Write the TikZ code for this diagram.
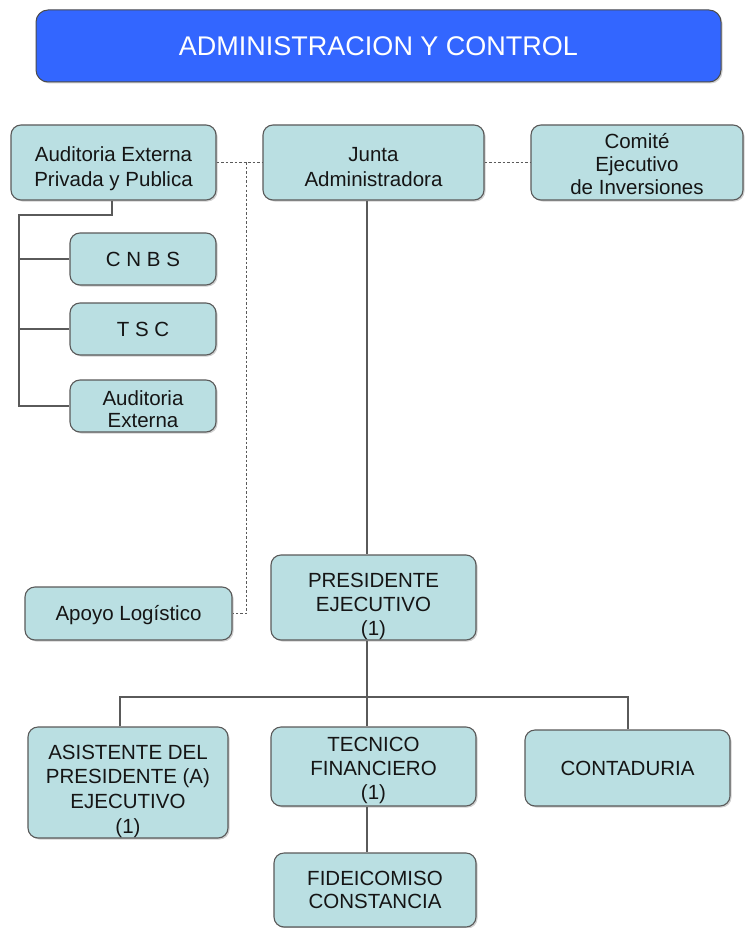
\documentclass[tikz,border=0pt]{standalone}
\usepackage{fontspec}
\setmainfont{Liberation Sans}
\usetikzlibrary{shadows}
\definecolor{boxfill}{HTML}{BADFE2}
\definecolor{boxline}{HTML}{5A5A5A}
\definecolor{titleblue}{HTML}{3366FF}
\definecolor{txt}{HTML}{151515}
% text block moved down by #1 inside its box (box size set by minimum width/height)
\newcommand\lowtext[2]{\raisebox{-#1}[0pt][0pt]{\begin{tabular}{@{}c@{}}#2\end{tabular}}}
\begin{document}
\begin{tikzpicture}[x=1pt,y=-1pt,
  orgbox/.style={draw=boxline, line width=1.1pt, fill=boxfill, rounded corners=10pt,
    align=center, font=\fontsize{20.5}{24}\selectfont, text=txt, inner sep=1pt,
    drop shadow={shadow xshift=1.5pt, shadow yshift=-1.5pt, fill=gray!60, opacity=0.6}},
  titlebox/.style={draw=black!70, line width=1pt, fill=titleblue, rounded corners=12pt,
    align=center, font=\fontsize{27}{30}\selectfont, text=white,
    drop shadow={shadow xshift=1.5pt, shadow yshift=-1.5pt, fill=gray!60, opacity=0.6}},
  solidlink/.style={draw=boxline, line width=1.2pt},
  dashlink/.style={draw=boxline, line width=1pt, dash pattern=on 2.5pt off 2pt}
]
\useasboundingbox (0,0) rectangle (744,928);
\fill[white] (0,0) rectangle (744,928);

\node[titlebox, minimum width=685pt, minimum height=72pt] (title) at (378.5,46) {ADMINISTRACION Y CONTROL};

\node[orgbox, minimum width=205pt, minimum height=75pt, font=\fontsize{20.5}{25}\selectfont] (aud) at (113.5,162.5) {\lowtext{12pt}{Auditoria Externa\\Privada y Publica}};
\node[orgbox, minimum width=221pt, minimum height=75pt, font=\fontsize{20.5}{25}\selectfont] (junta) at (373.5,162.5) {\lowtext{12pt}{Junta\\Administradora}};
\node[orgbox, minimum width=212pt, minimum height=75pt, font=\fontsize{20.5}{23}\selectfont] (comite) at (637,162.5) {\lowtext{10pt}{Comité\\Ejecutivo\\de Inversiones}};

\node[orgbox, minimum width=146pt, minimum height=52pt] (cnbs) at (143,259) {C N B S};
\node[orgbox, minimum width=146pt, minimum height=52pt] (tsc) at (143,329) {T S C};
\node[orgbox, minimum width=146pt, minimum height=52pt, font=\fontsize{20.5}{22}\selectfont] (audext) at (143,406) {\lowtext{11pt}{Auditoria\\Externa}};

\node[orgbox, minimum width=207pt, minimum height=53pt] (apoyo) at (128.5,613.5) {\lowtext{7pt}{Apoyo Logístico}};
\node[orgbox, minimum width=205pt, minimum height=85pt] (pres) at (373.5,597.5) {\lowtext{14pt}{PRESIDENTE\\EJECUTIVO\\(1)}};

\node[orgbox, minimum width=200pt, minimum height=111pt, font=\fontsize{20.5}{24.7}\selectfont] (asis) at (128,782.5) {\lowtext{14pt}{ASISTENTE DEL\\PRESIDENTE (A)\\EJECUTIVO\\(1)}};
\node[orgbox, minimum width=205pt, minimum height=79pt] (tec) at (373.5,766.5) {\lowtext{9pt}{TECNICO\\FINANCIERO\\(1)}};
\node[orgbox, minimum width=205pt, minimum height=76pt] (cont) at (627.5,768) {CONTADURIA};
\node[orgbox, minimum width=202pt, minimum height=74pt, font=\fontsize{20.5}{23}\selectfont] (fide) at (375,890) {FIDEICOMISO\\CONSTANCIA};

% auditoria branch
\coordinate (audbend) at (112,215);
\coordinate (audleft) at (19,215);
\draw[solidlink] ([xshift=-1.5pt]aud.south) -- (audbend) -- (audleft) -- (audleft |- audext.west) -- (audext.west);
\draw[solidlink] (audleft |- cnbs.west) -- (cnbs.west);
\draw[solidlink] (audleft |- tsc.west) -- (tsc.west);

% dashed links
\coordinate (dashx) at (246,162.5);
\draw[dashlink] (aud.east) -- (junta.west);
\draw[dashlink] (dashx) -- (dashx |- apoyo.east) -- (apoyo.east);
\draw[dashlink] (junta.east) -- (comite.west);

% main line
\draw[solidlink] ([xshift=-6.5pt]junta.south) -- ([xshift=-6.5pt]pres.north);
\draw[solidlink] ([xshift=-6.5pt]pres.south) -- ([xshift=-6.5pt]tec.north);
\coordinate (busL) at (120,697);
\coordinate (busR) at (628,697);
\draw[solidlink] ([xshift=-8pt]asis.north) -- (busL) -- (busR) -- ([xshift=0.5pt]cont.north);
\draw[solidlink] ([xshift=-6.5pt]tec.south) -- ([xshift=-8pt]fide.north);
\end{tikzpicture}
\end{document}
